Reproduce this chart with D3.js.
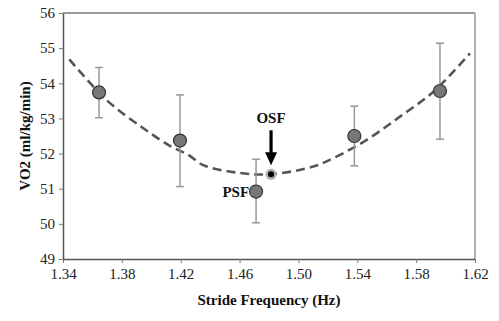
<!DOCTYPE html>
<html><head><meta charset="utf-8">
<script src="https://cdn.jsdelivr.net/npm/d3@7"></script>
<style>body{margin:0;background:#fff}svg{display:block}text{font-family:'Liberation Serif','Times New Roman',serif}</style>
</head><body>
<script>
const strideFreq = [1.3645, 1.4195, 1.4712, 1.538, 1.5962];
const vo2 = [53.74, 52.37, 50.92, 52.50, 53.78];
const errHigh = [54.45, 53.67, 51.84, 53.35, 55.14];
const errLow = [53.02, 51.06, 50.03, 51.65, 52.41];
const fitX = [1.3443, 1.3697, 1.3946, 1.4127, 1.4252, 1.4353, 1.4580, 1.4807, 1.5101, 1.5237, 1.5464, 1.5690, 1.5917, 1.6166];
const fitY = [54.68, 53.52, 52.72, 52.22, 51.96, 51.67, 51.46, 51.41, 51.63, 51.87, 52.39, 53.05, 53.76, 54.85];
const osf = {x: 1.4814, y: 51.41};
const xTicks = [1.34, 1.38, 1.42, 1.46, 1.50, 1.54, 1.58, 1.62];
const yTicks = [49, 50, 51, 52, 53, 54, 55, 56];

const W = 499, H = 321;
const m = {l: 63, r: 24, t: 13, b: 62};
const svg = d3.select("body").append("svg").attr("width", W).attr("height", H);
const x = d3.scaleLinear().domain([1.34, 1.62]).range([m.l, W - m.r]);
const y = d3.scaleLinear().domain([49, 56]).range([H - m.b, m.t]);
const font = "'Liberation Serif','Times New Roman',serif";

// frame top/right
svg.append("line").attr("x1", x(1.34)).attr("x2", x(1.62)).attr("y1", y(56)).attr("y2", y(56)).attr("stroke", "#7a7a7a").attr("stroke-width", 1.5);
svg.append("line").attr("x1", x(1.62)).attr("x2", x(1.62)).attr("y1", y(56)).attr("y2", y(49)).attr("stroke", "#999").attr("stroke-width", 1.5);

const xAxis = svg.append("g").attr("transform", `translate(0,${y(49)})`)
  .call(d3.axisBottom(x).tickValues(xTicks).tickFormat(d3.format(".2f")).tickSize(4).tickSizeOuter(0));
const yAxis = svg.append("g").attr("transform", `translate(${x(1.34)},0)`)
  .call(d3.axisLeft(y).tickValues(yTicks).tickFormat(d3.format("d")).tickSize(4).tickSizeOuter(0));
[xAxis, yAxis].forEach(g => {
  g.attr("font-family", font).attr("font-size", 15);
  g.select(".domain").attr("stroke", "#555").attr("stroke-width", 1.5);
  g.selectAll(".tick line").attr("stroke", "#777").attr("stroke-width", 1);
  g.selectAll("text").style("font-family", font).style("font-size", "15px").attr("fill", "#222");
});
xAxis.selectAll("text").attr("dy", "1.0em").attr("y", 5);
yAxis.selectAll("text").attr("x", -8);

// fit curve
svg.append("path").datum(fitX.map((v, i) => [v, fitY[i]]))
  .attr("d", d3.line().x(d => x(d[0])).y(d => y(d[1])).curve(d3.curveCatmullRom))
  .attr("fill", "none").attr("stroke", "#555").attr("stroke-width", 2.6).attr("stroke-dasharray", "9,5");

// error bars
const eb = svg.append("g").attr("stroke", "#999").attr("stroke-width", 1.5);
strideFreq.forEach((f, i) => {
  eb.append("line").attr("x1", x(f)).attr("x2", x(f)).attr("y1", y(errHigh[i])).attr("y2", y(errLow[i]));
  [errHigh[i], errLow[i]].forEach(v => eb.append("line").attr("x1", x(f) - 4).attr("x2", x(f) + 4).attr("y1", y(v)).attr("y2", y(v)));
});

// points
svg.append("g").selectAll("circle").data(strideFreq).join("circle")
  .attr("cx", d => x(d)).attr("cy", (d, i) => y(vo2[i])).attr("r", 6.5)
  .attr("fill", "#777").attr("stroke", "#333").attr("stroke-width", 1.2);

// OSF marker
svg.append("circle").attr("cx", x(osf.x)).attr("cy", y(osf.y)).attr("r", 5.5).attr("fill", "#aaa");
svg.append("circle").attr("cx", x(osf.x)).attr("cy", y(osf.y)).attr("r", 3).attr("fill", "#000");

// arrow
const ax = x(osf.x), tipY = y(osf.y) - 9;
svg.append("rect").attr("x", ax - 1.6).attr("y", tipY - 35).attr("width", 3.2).attr("height", 24).attr("fill", "#000");
svg.append("path").attr("d", `M${ax - 6},${tipY - 13} L${ax + 6},${tipY - 13} L${ax},${tipY} Z`).attr("fill", "#000");

svg.append("text").attr("x", ax).attr("y", tipY - 42).attr("text-anchor", "middle")
  .attr("font-family", font).attr("font-weight", "bold").attr("font-size", 15).attr("fill", "#111").text("OSF");
svg.append("text").attr("x", x(strideFreq[2]) - 7).attr("y", y(vo2[2]) + 5).attr("text-anchor", "end")
  .attr("font-family", font).attr("font-weight", "bold").attr("font-size", 15).attr("fill", "#111").text("PSF");

// axis titles
svg.append("text").attr("x", (x(1.34) + x(1.62)) / 2).attr("y", 305).attr("text-anchor", "middle")
  .attr("font-family", font).attr("font-weight", "bold").attr("font-size", 15).attr("fill", "#111").text("Stride Frequency (Hz)");
svg.append("text").attr("transform", `translate(30,${(y(49) + y(56)) / 2}) rotate(-90)`).attr("text-anchor", "middle")
  .attr("font-family", font).attr("font-weight", "bold").attr("font-size", 15).attr("fill", "#111").text("VO2 (ml/kg/min)");
</script>
</body></html>
